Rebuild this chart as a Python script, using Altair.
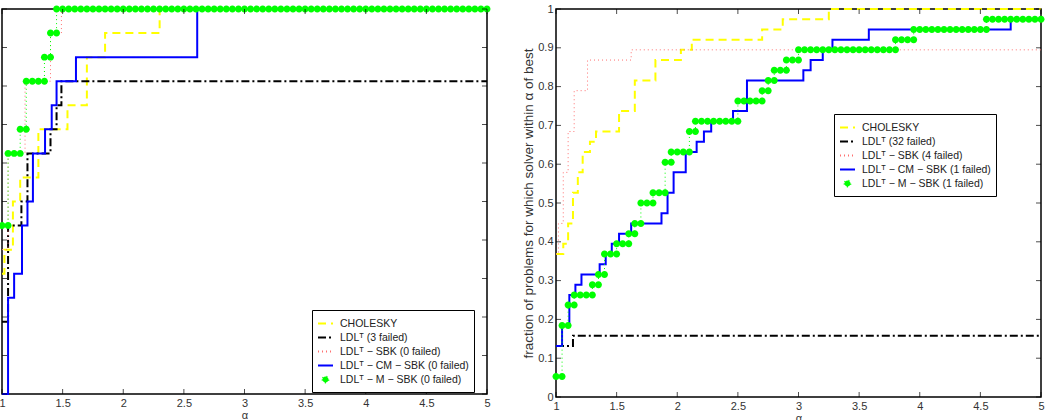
import numpy as np
import pandas as pd
import altair as alt

FONT = "Liberation Sans"

# ---------------- axis ticks ----------------
X_TICKS = [1, 1.5, 2, 2.5, 3, 3.5, 4, 4.5, 5]
Y_TICKS = [0, 0.1, 0.2, 0.3, 0.4, 0.5, 0.6, 0.7, 0.8, 0.9, 1]
GRID_STEP = 0.05  # alpha grid on which the green profile was sampled

# ---------------- left panel (16 problems) ----------------
N_LEFT = 16
LEFT_LABELS = [
    "CHOLESKY",
    "LDLᵀ (3 failed)",
    "LDLᵀ − SBK (0 failed)",
    "LDLᵀ − CM − SBK (0 failed)",
    "LDLᵀ − M − SBK (0 failed)",
]
L_CHOL_A = [1.0, 1.02, 1.09, 1.15, 1.30, 1.54, 1.70, 1.85, 2.30, 5.0]
L_CHOL_K = [5, 6, 8, 9, 11, 12, 14, 15, 16, 16]
L_LDL_A = [1.0, 1.05, 1.16, 1.21, 1.40, 1.45, 1.49, 5.0]
L_LDL_K = [3, 7, 8, 10, 11, 12, 13, 13]
L_SBK_A = [1.0, 1.05, 1.19, 1.40, 1.49, 5.0]
L_SBK_K = [6, 10, 13, 15, 16, 16]
L_CM_A = [1.0, 1.05, 1.10, 1.165, 1.21, 1.255, 1.355, 1.41, 1.45, 1.61, 2.61, 5.0]
L_CM_K = [0, 4, 5, 7, 8, 10, 11, 12, 13, 14, 16, 16]
L_M_A = [1.0, 1.05, 1.15, 1.2, 1.35, 1.4, 1.45]
L_M_K = [7, 10, 11, 13, 14, 15, 16]

# ---------------- right panel (38 problems) ----------------
N_RIGHT = 38
RIGHT_LABELS = [
    "CHOLESKY",
    "LDLᵀ (32 failed)",
    "LDLᵀ − SBK (4 failed)",
    "LDLᵀ − CM − SBK (1 failed)",
    "LDLᵀ − M − SBK (1 failed)",
]
R_CHOL_A = [1.0, 1.06, 1.10, 1.14, 1.18, 1.22, 1.28, 1.33, 1.52, 1.65, 1.82, 2.03, 2.12, 2.70, 2.87, 3.25, 5.0]
R_CHOL_K = [14, 15, 17, 20, 22, 24, 25, 26, 28, 31, 33, 34, 35, 36, 37, 38, 38]
R_LDL_A = [1.0, 1.14, 5.0]
R_LDL_K = [5, 6, 6]
R_SBK_A = [1.0, 1.02, 1.06, 1.10, 1.15, 1.26, 1.62, 5.0]
R_SBK_K = [14, 17, 22, 26, 30, 33, 34, 34]
R_CM_A = [1.0, 1.05, 1.11, 1.16, 1.21, 1.36, 1.41, 1.46, 1.52, 1.62, 1.87, 1.92, 1.97, 2.07, 2.16,
          2.22, 2.28, 2.46, 2.575, 3.04, 3.10, 3.20, 3.28, 3.58, 4.75, 5.0]
R_CM_K = [5, 7, 10, 11, 12, 13, 14, 15, 16, 17, 18, 20, 22, 24, 25, 26, 27, 28, 31, 32, 33, 34, 35, 36, 37, 37]
R_M_A = [1.0, 1.05, 1.1, 1.15, 1.3, 1.35, 1.4, 1.5, 1.6, 1.65, 1.7, 1.8, 1.9, 1.95, 2.1, 2.15,
         2.5, 2.7, 2.75, 2.8, 2.9, 3.0, 3.8, 3.95, 4.55]
R_M_K = [2, 7, 9, 10, 11, 12, 14, 15, 16, 17, 19, 20, 23, 24, 26, 27, 29, 30, 31, 32, 33, 34, 35, 36, 37]

# ---------------- styles ----------------
COLORS = ["#ffff00", "#000000", "#ff7070", "#0000ff", "#00ff00"]
DASHES = [[8, 5], [8, 3, 2, 3], [1, 3], [1, 0], [1, 3]]
WIDTHS = [2, 2, 1, 2, 1]
DOT = "M -0.4 0 A 0.4 0.4 0 1 0 0.4 0 A 0.4 0.4 0 1 0 -0.4 0 Z"
SHAPES = ["stroke", "stroke", "stroke", "stroke", DOT]
Y_TITLE = "fraction of problems for which solver within α of best"


def green_dots(a, k, n, label):
    rows = []
    ends = list(a[1:]) + [X_TICKS[-1]]
    for s, e, v in zip(a, ends, k):
        for x in np.arange(s, e + 1e-6, GRID_STEP):
            rows.append({"a": round(float(x), 3), "f": v / n, "s": label})
    return pd.DataFrame(rows)


def panel(curves, green, n, labels, lx, ly, height, show_y):
    xscale = alt.Scale(domain=[1, 5], nice=False, zero=False)
    yscale = alt.Scale(domain=[0, 1], nice=False, zero=True)
    xaxis = alt.Axis(values=X_TICKS, format="~g", title="α", titleFontSize=11,
                     titlePadding=1, labelFlush=False)
    yaxis = alt.Axis(values=Y_TICKS, format="~g", title=Y_TITLE, titlePadding=2,
                     titleFontSize=13.5) if show_y else None
    leg = alt.Legend(title=None, orient="none", legendX=lx, legendY=ly, symbolSize=225,
                     symbolStrokeWidth=1.8, labelFontSize=10.5, labelFont=FONT, labelColor="#222",
                     labelLimit=400, strokeColor="black", fillColor="white", padding=5,
                     rowPadding=0, labelOffset=6)
    cscale = alt.Scale(domain=labels, range=COLORS)
    dscale = alt.Scale(domain=labels, range=DASHES)
    sscale = alt.Scale(domain=labels, range=SHAPES)

    X = alt.X("a:Q", scale=xscale, axis=xaxis)
    Y = alt.Y("f:Q", scale=yscale, axis=yaxis)
    C = alt.Color("s:N", scale=cscale, legend=leg, sort=labels)
    D = alt.StrokeDash("s:N", scale=dscale, legend=leg, sort=labels)

    layers = []
    all_curves = list(curves) + [(list(green[0]) + [X_TICKS[-1]], list(green[1]) + [green[1][-1]])]
    for i, (a, k) in enumerate(all_curves):
        df = pd.DataFrame({"a": a, "f": [v / n for v in k], "s": labels[i]})
        layers.append(
            alt.Chart(df).mark_line(interpolate="step-after", strokeWidth=WIDTHS[i]).encode(
                x=X, y=Y, color=C, strokeDash=D)
        )
    gd = green_dots(green[0], green[1], n, labels[4])
    layers.append(
        alt.Chart(gd).mark_point(filled=True, size=306, opacity=1).encode(
            x=X, y=Y, color=C,
            shape=alt.Shape("s:N", scale=sscale, legend=leg, sort=labels))
    )

    tx = pd.DataFrame({"a": X_TICKS})
    ty = pd.DataFrame({"f": Y_TICKS})
    tick_style = dict(thickness=1, size=5, color="black")
    layers += [
        alt.Chart(tx).mark_tick(orient="vertical", yOffset=-2.5, **tick_style).encode(
            x=X, y=alt.YDatum(0, scale=yscale, axis=yaxis)),
        alt.Chart(tx).mark_tick(orient="vertical", yOffset=2.5, **tick_style).encode(
            x=X, y=alt.YDatum(1, scale=yscale, axis=yaxis)),
        alt.Chart(ty).mark_tick(orient="horizontal", xOffset=2.5, **tick_style).encode(
            y=Y, x=alt.XDatum(1, scale=xscale, axis=xaxis)),
        alt.Chart(ty).mark_tick(orient="horizontal", xOffset=-2.5, **tick_style).encode(
            y=Y, x=alt.XDatum(5, scale=xscale, axis=xaxis)),
    ]
    return alt.layer(*layers).properties(width=485, height=height)


left = panel(
    [(L_CHOL_A, L_CHOL_K), (L_LDL_A, L_LDL_K), (L_SBK_A, L_SBK_K), (L_CM_A, L_CM_K)],
    (L_M_A, L_M_K), N_LEFT, LEFT_LABELS, 310, 301, 385, False)
right = panel(
    [(R_CHOL_A, R_CHOL_K), (R_LDL_A, R_LDL_K), (R_SBK_A, R_SBK_K), (R_CM_A, R_CM_K)],
    (R_M_A, R_M_K), N_RIGHT, RIGHT_LABELS, 278, 105, 388, True)

chart = (
    alt.hconcat(left, right, spacing=28)
    .resolve_scale(color="independent", strokeDash="independent", shape="independent")
    .resolve_legend(color="independent", strokeDash="independent", shape="independent")
    .properties(padding={"left": -3, "top": 2, "right": 0, "bottom": 0})
    .configure(font=FONT)
    .configure_view(stroke="black", strokeWidth=1.5)
    .configure_axis(domain=False, ticks=False, grid=False, labelFontSize=11,
                    labelColor="#333", labelPadding=3, titleFontWeight="normal",
                    titleColor="#333", titleFontSize=10, labelFont=FONT, titleFont=FONT)
)

chart.save("out.html", embed_options={"renderer": "svg", "actions": False})
